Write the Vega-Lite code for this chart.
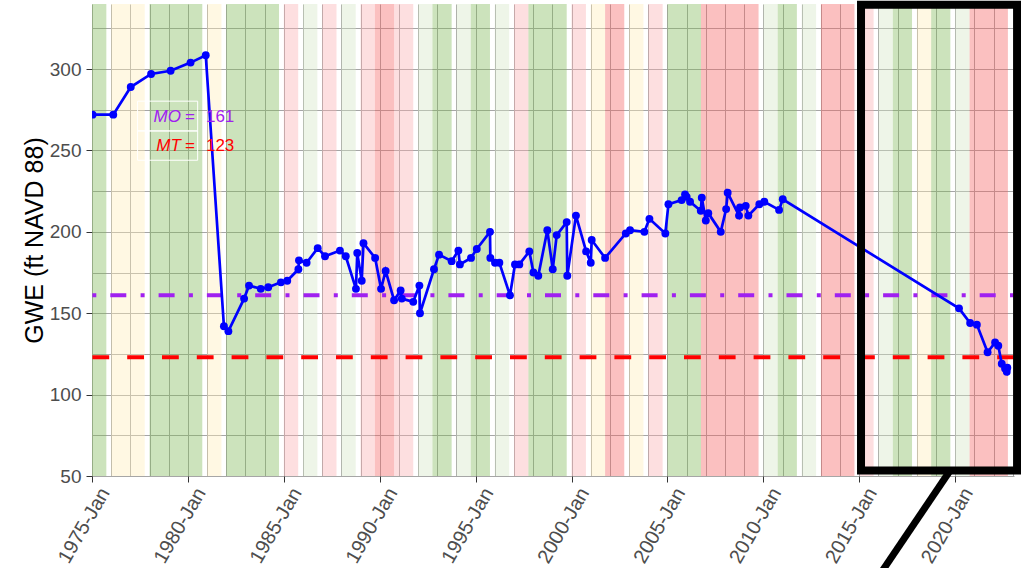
{
  "$schema": "https://vega.github.io/schema/vega-lite/v6.json",
  "autosize": "none",
  "width": 922,
  "height": 472,
  "padding": {"left": 92, "top": 4, "right": 7, "bottom": 92},
  "background": "white",
  "config": {"view": {"stroke": null}, "font": "Liberation Sans"},
  "datasets": {
    "bands": [
      {"start": "1974-10-01", "end": "1975-10-01", "type": "Wet"},
      {"start": "1976-01-01", "end": "1977-10-01", "type": "Below Normal"},
      {"start": "1978-01-01", "end": "1980-10-01", "type": "Wet"},
      {"start": "1981-01-01", "end": "1981-10-01", "type": "Below Normal"},
      {"start": "1982-01-01", "end": "1984-10-01", "type": "Wet"},
      {"start": "1985-01-01", "end": "1985-10-01", "type": "Dry"},
      {"start": "1986-01-01", "end": "1986-10-01", "type": "Above Normal"},
      {"start": "1987-01-01", "end": "1987-10-01", "type": "Dry"},
      {"start": "1988-01-01", "end": "1988-10-01", "type": "Above Normal"},
      {"start": "1989-01-01", "end": "1989-10-01", "type": "Dry"},
      {"start": "1989-10-01", "end": "1990-10-01", "type": "Critical"},
      {"start": "1990-10-01", "end": "1991-10-01", "type": "Dry"},
      {"start": "1992-01-01", "end": "1992-10-01", "type": "Above Normal"},
      {"start": "1992-10-01", "end": "1993-10-01", "type": "Wet"},
      {"start": "1994-01-01", "end": "1994-10-01", "type": "Above Normal"},
      {"start": "1994-10-01", "end": "1995-10-01", "type": "Wet"},
      {"start": "1996-01-01", "end": "1996-10-01", "type": "Above Normal"},
      {"start": "1997-01-01", "end": "1997-10-01", "type": "Dry"},
      {"start": "1997-10-01", "end": "1999-10-01", "type": "Wet"},
      {"start": "2000-01-01", "end": "2000-10-01", "type": "Dry"},
      {"start": "2001-01-01", "end": "2001-10-01", "type": "Below Normal"},
      {"start": "2001-10-01", "end": "2002-10-01", "type": "Critical"},
      {"start": "2003-01-01", "end": "2003-10-01", "type": "Below Normal"},
      {"start": "2004-01-01", "end": "2004-10-01", "type": "Dry"},
      {"start": "2005-01-01", "end": "2006-10-01", "type": "Wet"},
      {"start": "2006-10-01", "end": "2009-10-01", "type": "Critical"},
      {"start": "2010-01-01", "end": "2010-10-01", "type": "Above Normal"},
      {"start": "2010-10-01", "end": "2011-10-01", "type": "Wet"},
      {"start": "2012-01-01", "end": "2012-10-01", "type": "Above Normal"},
      {"start": "2013-01-01", "end": "2014-10-01", "type": "Critical"},
      {"start": "2015-01-01", "end": "2015-10-01", "type": "Dry"},
      {"start": "2016-01-01", "end": "2016-10-01", "type": "Above Normal"},
      {"start": "2016-10-01", "end": "2017-10-01", "type": "Wet"},
      {"start": "2018-01-01", "end": "2018-10-01", "type": "Below Normal"},
      {"start": "2018-10-01", "end": "2019-10-01", "type": "Wet"},
      {"start": "2020-01-01", "end": "2020-10-01", "type": "Above Normal"},
      {"start": "2020-10-01", "end": "2022-10-01", "type": "Critical"}
    ],
    "gwe": [
      {"date": "1975-01-12", "gwe": 272},
      {"date": "1976-02-10", "gwe": 272},
      {"date": "1977-01-08", "gwe": 289},
      {"date": "1978-01-30", "gwe": 297},
      {"date": "1979-02-06", "gwe": 299},
      {"date": "1980-02-21", "gwe": 304},
      {"date": "1980-12-06", "gwe": 308.5},
      {"date": "1981-11-17", "gwe": 142},
      {"date": "1982-02-10", "gwe": 139},
      {"date": "1982-12-06", "gwe": 159},
      {"date": "1983-03-10", "gwe": 167},
      {"date": "1983-10-19", "gwe": 165},
      {"date": "1984-03-10", "gwe": 166},
      {"date": "1984-11-06", "gwe": 169},
      {"date": "1985-03-07", "gwe": 170},
      {"date": "1985-10-05", "gwe": 177},
      {"date": "1985-10-16", "gwe": 182.5},
      {"date": "1986-03-10", "gwe": 181},
      {"date": "1986-10-08", "gwe": 190},
      {"date": "1987-02-24", "gwe": 185},
      {"date": "1987-12-05", "gwe": 188.5},
      {"date": "1988-03-25", "gwe": 185},
      {"date": "1988-10-05", "gwe": 165},
      {"date": "1988-10-30", "gwe": 187},
      {"date": "1989-01-23", "gwe": 170},
      {"date": "1989-02-25", "gwe": 193},
      {"date": "1989-10-05", "gwe": 184},
      {"date": "1990-01-26", "gwe": 165},
      {"date": "1990-04-23", "gwe": 176},
      {"date": "1990-10-01", "gwe": 158},
      {"date": "1991-02-03", "gwe": 164},
      {"date": "1991-02-25", "gwe": 159},
      {"date": "1991-10-01", "gwe": 157},
      {"date": "1992-01-26", "gwe": 167},
      {"date": "1992-02-06", "gwe": 150},
      {"date": "1992-10-30", "gwe": 177},
      {"date": "1993-02-03", "gwe": 186},
      {"date": "1993-10-01", "gwe": 182},
      {"date": "1994-02-06", "gwe": 188.5},
      {"date": "1994-03-07", "gwe": 180},
      {"date": "1994-10-05", "gwe": 184},
      {"date": "1995-01-23", "gwe": 189.5},
      {"date": "1995-10-01", "gwe": 200},
      {"date": "1995-10-08", "gwe": 184},
      {"date": "1996-01-05", "gwe": 181},
      {"date": "1996-03-28", "gwe": 181},
      {"date": "1996-10-16", "gwe": 161},
      {"date": "1997-01-19", "gwe": 180},
      {"date": "1997-04-12", "gwe": 180},
      {"date": "1997-10-19", "gwe": 188},
      {"date": "1998-01-05", "gwe": 175},
      {"date": "1998-04-08", "gwe": 173},
      {"date": "1998-09-27", "gwe": 201},
      {"date": "1999-01-08", "gwe": 177},
      {"date": "1999-03-25", "gwe": 198},
      {"date": "1999-10-01", "gwe": 206},
      {"date": "1999-10-12", "gwe": 173},
      {"date": "2000-03-25", "gwe": 210},
      {"date": "2000-10-05", "gwe": 188},
      {"date": "2001-01-01", "gwe": 181},
      {"date": "2001-01-19", "gwe": 195},
      {"date": "2001-10-01", "gwe": 184},
      {"date": "2002-10-30", "gwe": 199},
      {"date": "2003-01-19", "gwe": 201},
      {"date": "2003-10-19", "gwe": 200},
      {"date": "2004-01-23", "gwe": 208},
      {"date": "2004-11-21", "gwe": 199},
      {"date": "2005-01-19", "gwe": 217},
      {"date": "2005-09-27", "gwe": 219.5},
      {"date": "2005-12-01", "gwe": 223},
      {"date": "2006-01-01", "gwe": 221.5},
      {"date": "2006-03-07", "gwe": 218.5},
      {"date": "2006-09-27", "gwe": 213},
      {"date": "2006-10-16", "gwe": 221},
      {"date": "2007-01-01", "gwe": 207},
      {"date": "2007-02-17", "gwe": 211.5},
      {"date": "2007-10-12", "gwe": 200},
      {"date": "2008-01-23", "gwe": 214},
      {"date": "2008-02-21", "gwe": 224},
      {"date": "2008-09-24", "gwe": 210},
      {"date": "2008-10-12", "gwe": 215},
      {"date": "2009-01-30", "gwe": 216},
      {"date": "2009-03-21", "gwe": 210},
      {"date": "2009-10-16", "gwe": 217},
      {"date": "2010-01-19", "gwe": 218.5},
      {"date": "2010-10-27", "gwe": 213.5},
      {"date": "2011-01-05", "gwe": 220},
      {"date": "2020-03-14", "gwe": 153},
      {"date": "2020-10-12", "gwe": 144},
      {"date": "2021-02-17", "gwe": 143},
      {"date": "2021-09-09", "gwe": 126},
      {"date": "2022-01-30", "gwe": 132},
      {"date": "2022-04-01", "gwe": 130},
      {"date": "2022-06-06", "gwe": 119},
      {"date": "2022-08-08", "gwe": 116},
      {"date": "2022-09-09", "gwe": 114},
      {"date": "2022-09-20", "gwe": 116.5}
    ],
    "levels": [
      {"name": "MO", "level": 161, "row": 270.4},
      {"name": "MT", "level": 123, "row": 252.6}
    ],
    "box": [
      {"start": "1977-05-18", "end": "1980-07-05", "top": 280.3, "bottom": 262.0},
      {"start": "1977-05-18", "end": "1980-07-05", "top": 262.0, "bottom": 244.0}
    ],
    "callout": [
      {"start": "2015-02-03", "end": "2023-03-25", "low": 53.4, "high": 339.6, "from": "2019-09-27", "to": "2015-11-10", "fromY": 53.4, "toY": -14.3}
    ]
  },
  "layer": [
    {
      "data": {"name": "bands"},
      "mark": {"type": "rect", "opacity": 0.4, "clip": true},
      "encoding": {
        "x": {
          "field": "start", "type": "temporal",
          "scale": {"type": "utc", "domain": [{"year": 1975, "month": 1, "date": 1, "utc": true}, {"year": 2023, "month": 1, "date": 25, "utc": true}]},
          "axis": {
            "title": null,
            "tickCount": {"interval": "year", "step": 1},
            "labelExpr": "utcyear(datum.value) % 5 === 0 ? utcFormat(datum.value, '%Y-%b') : ''",
            "labelAngle": -60, "labelAlign": "right", "labelBaseline": "top",
            "labelOverlap": false, "labelBound": false,
            "labelFontSize": 20, "labelColor": "#4d4d4d", "labelFont": "Liberation Sans",
            "labelPadding": 2, "labelOffset": 4,
            "grid": true, "gridColor": "#a6a6a6", "gridWidth": 1,
            "tickColor": {"condition": {"test": "utcyear(datum.value) % 5 === 0", "value": "#333333"}, "value": "transparent"},
            "tickSize": 6, "tickWidth": 1, "domain": false
          }
        },
        "x2": {"field": "end"},
        "y": {
          "datum": 340, "type": "quantitative",
          "scale": {"domain": [50, 340], "nice": false, "zero": false},
          "axis": {
            "title": "GWE (ft NAVD 88)",
            "values": [50, 75, 100, 125, 150, 175, 200, 225, 250, 275, 300, 325],
            "labelExpr": "datum.value % 50 === 0 ? datum.label : ''",
            "grid": true, "gridColor": "#a6a6a6", "gridWidth": 1,
            "tickColor": {"condition": {"test": "datum.value % 50 === 0", "value": "#333333"}, "value": "transparent"},
            "tickSize": 6, "labelPadding": 5,
            "labelFontSize": 19, "labelColor": "#4d4d4d", "labelFont": "Liberation Sans",
            "domain": false,
            "titleFontSize": 25, "titleFontWeight": "normal", "titleColor": "black", "titleFont": "Liberation Sans",
            "titlePadding": 2
          }
        },
        "y2": {"datum": 50},
        "fill": {
          "field": "type", "type": "nominal",
          "scale": {"domain": ["Wet", "Above Normal", "Below Normal", "Dry", "Critical"], "range": ["#80b958", "#d5e6c5", "#ffeeb9", "#faafb2", "#f56262"]},
          "legend": null
        }
      }
    },
    {
      "data": {"name": "box"},
      "mark": {"type": "rect", "filled": false, "stroke": "white", "strokeWidth": 1},
      "encoding": {
        "x": {"field": "start", "type": "temporal"},
        "x2": {"field": "end"},
        "y": {"field": "top", "type": "quantitative"},
        "y2": {"field": "bottom"}
      }
    },
    {
      "data": {"name": "levels"},
      "transform": [{"filter": "datum.name === 'MO'"}],
      "mark": {"type": "rule", "color": "#A020F0", "strokeWidth": 4, "strokeDash": [4, 14.3, 16, 14]},
      "encoding": {"y": {"field": "level", "type": "quantitative"}}
    },
    {
      "data": {"name": "levels"},
      "transform": [{"filter": "datum.name === 'MT'"}],
      "mark": {"type": "rule", "color": "#FF0000", "strokeWidth": 4, "strokeDash": [16.8, 18]},
      "encoding": {"y": {"field": "level", "type": "quantitative"}}
    },
    {
      "data": {"name": "gwe"},
      "mark": {"type": "line", "color": "#0000FF", "strokeWidth": 2.7, "clip": true},
      "encoding": {
        "x": {"field": "date", "type": "temporal"},
        "y": {"field": "gwe", "type": "quantitative"}
      }
    },
    {
      "data": {"name": "gwe"},
      "mark": {"type": "circle", "color": "#0000FF", "opacity": 1, "size": 62, "clip": true},
      "encoding": {
        "x": {"field": "date", "type": "temporal"},
        "y": {"field": "gwe", "type": "quantitative"}
      }
    },
    {
      "data": {"name": "levels"},
      "mark": {"type": "text", "align": "right", "baseline": "middle", "fontSize": 17, "fontStyle": "italic", "font": "Liberation Sans"},
      "encoding": {
        "x": {"datum": {"year": 1979, "month": 8, "date": 20, "utc": true}, "type": "temporal"},
        "y": {"field": "row", "type": "quantitative"},
        "text": {"field": "name"},
        "color": {"field": "name", "type": "nominal", "scale": {"domain": ["MO", "MT"], "range": ["#A020F0", "#FF0000"]}, "legend": null}
      }
    },
    {
      "data": {"name": "levels"},
      "mark": {"type": "text", "align": "center", "baseline": "middle", "fontSize": 17, "font": "Liberation Sans"},
      "encoding": {
        "x": {"datum": {"year": 1980, "month": 2, "date": 10, "utc": true}, "type": "temporal"},
        "y": {"field": "row", "type": "quantitative"},
        "text": {"value": "="},
        "color": {"field": "name", "type": "nominal", "legend": null}
      }
    },
    {
      "data": {"name": "levels"},
      "mark": {"type": "text", "align": "left", "baseline": "middle", "fontSize": 17, "font": "Liberation Sans"},
      "encoding": {
        "x": {"datum": {"year": 1980, "month": 12, "date": 10, "utc": true}, "type": "temporal"},
        "y": {"field": "row", "type": "quantitative"},
        "text": {"field": "level", "type": "quantitative"},
        "color": {"field": "name", "type": "nominal", "legend": null}
      }
    },
    {
      "data": {"name": "callout"},
      "mark": {"type": "rect", "filled": false, "stroke": "black", "strokeWidth": 8, "clip": false},
      "encoding": {
        "x": {"field": "start", "type": "temporal"},
        "x2": {"field": "end"},
        "y": {"field": "high", "type": "quantitative"},
        "y2": {"field": "low"}
      }
    },
    {
      "data": {"name": "callout"},
      "mark": {"type": "rule", "color": "black", "strokeWidth": 7, "clip": false},
      "encoding": {
        "x": {"field": "from", "type": "temporal"},
        "x2": {"field": "to"},
        "y": {"field": "fromY", "type": "quantitative"},
        "y2": {"field": "toY"}
      }
    }
  ]
}
